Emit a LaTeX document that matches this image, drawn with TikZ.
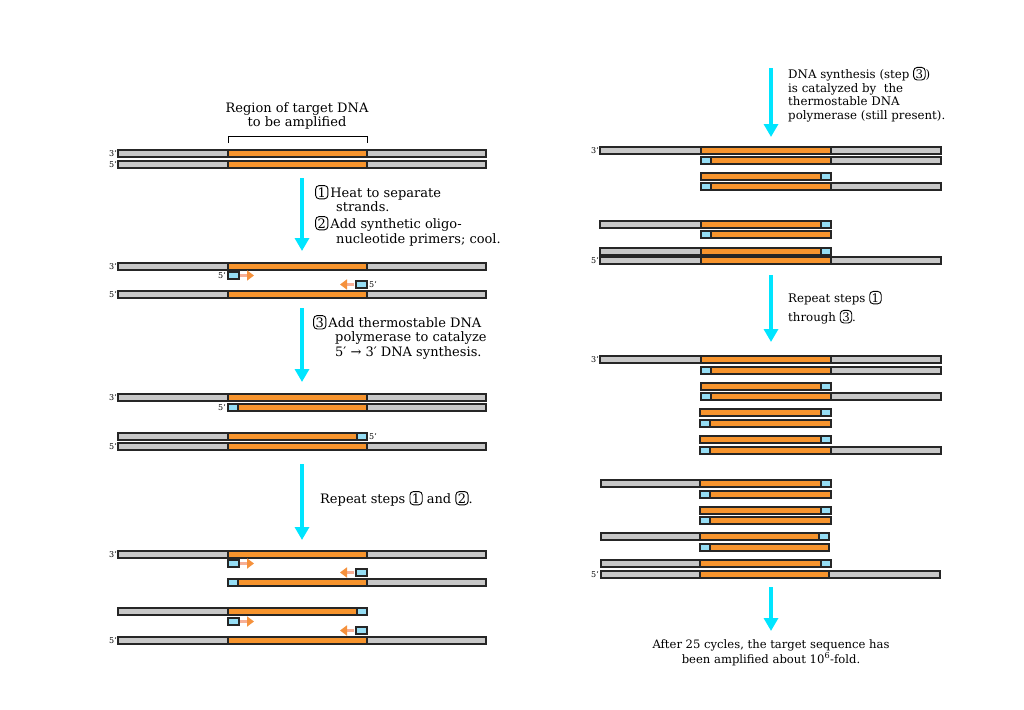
\documentclass[tikz,border=0pt]{standalone}
\usepackage{fontspec}
\setmainfont{DejaVu Serif}
\usetikzlibrary{arrows.meta}
\definecolor{dnaorange}{RGB}{247,148,45}
\definecolor{dnagray}{RGB}{200,200,200}
\definecolor{dnablue}{RGB}{150,222,245}
\definecolor{bigcyan}{RGB}{0,229,255}
\definecolor{primarrow}{RGB}{245,145,60}
\definecolor{primshaft}{RGB}{247,175,150}
\newcommand{\cnum}[1]{\tikz[baseline=(cn.base)]\node[draw,line width=0.9pt,rounded corners=3.5pt,inner xsep=2pt,inner ysep=1.8pt](cn){#1};}
\newcommand{\sg}[4]{\draw[seg,fill=#1] (#2,#4) rectangle (#3,{#4+7});}
% full strand: y L A B R
\newcommand{\fullst}[5]{\sg{dnagray}{#2}{#3}{#1}\sg{dnaorange}{#3}{#4}{#1}\sg{dnagray}{#4}{#5}{#1}}
% primer + orange + gray: y A B R
\newcommand{\pst}[4]{\sg{dnablue}{#2}{#2+10}{#1}\sg{dnaorange}{#2+10}{#3}{#1}\sg{dnagray}{#3}{#4}{#1}}
% orange + primer: y A B
\newcommand{\qst}[3]{\sg{dnaorange}{#2}{#3-10}{#1}\sg{dnablue}{#3-10}{#3}{#1}}
% primer + orange: y A B
\newcommand{\rst}[3]{\sg{dnablue}{#2}{#2+10}{#1}\sg{dnaorange}{#2+10}{#3}{#1}}
% gray + orange + primer: y L A B
\newcommand{\sst}[4]{\sg{dnagray}{#2}{#3}{#1}\sg{dnaorange}{#3}{#4-10}{#1}\sg{dnablue}{#4-10}{#4}{#1}}
\newcommand{\primer}[2]{\sg{dnablue}{#1}{#1+11}{#2}}
\begin{document}
\begin{tikzpicture}[x=1pt,y=-1pt,
  seg/.style={draw=black!85,line width=1.15pt},
  bigarrow/.style={bigcyan,line width=4pt,-{Triangle[width=14pt,length=13pt]}},
  parrow/.style={primshaft,line width=3.8pt,-{Triangle[width=10pt,length=7pt,color=primarrow]}},
  txt/.style={font=\fontsize{13}{15}\selectfont,inner sep=0pt,anchor=base west},
  ctxt/.style={font=\fontsize{13}{15}\selectfont,inner sep=0pt,anchor=base},
  rtxt/.style={font=\fontsize{11.8}{14}\selectfont,inner sep=0pt,anchor=base west},
  rctxt/.style={font=\fontsize{11.6}{14}\selectfont,inner sep=0pt,anchor=base},
  lab/.style={font=\fontsize{8}{9}\selectfont,inner sep=0pt}]
\useasboundingbox[fill=white] (0,0) rectangle (1024,709);

% ===== Left column =====
\node[ctxt] (reg1) at (297,112) {Region of target DNA};
\node[ctxt] (reg2) at (297,126.5) {to be amplified};
\draw[line width=1pt] (228,143) -- (228,136) -- (367,136) -- (367,143);
\fullst{150}{118}{228}{367}{486}
\fullst{161}{118}{228}{367}{486}
\node[lab,anchor=east] (l1a) at (117,153.5) {3'};
\node[lab,anchor=east] (l1b) at (117,164.5) {5'};

\coordinate (a1s) at (302,178); \coordinate (a1e) at (302,251);
\draw[bigarrow] (a1s) -- (a1e);
\node[txt] (t1a) at (315,197) {\cnum{1}\kern2pt Heat to separate};
\node[txt] (t1b) at (336,211) {strands.};
\node[txt] (t1c) at (315,228) {\cnum{2}\kern2pt Add synthetic oligo-};
\node[txt] (t1d) at (336,243) {nucleotide primers; cool.};

\fullst{263}{118}{228}{367}{486}
\primer{228}{272}
\primer{356}{281}
\fullst{291}{118}{228}{367}{486}
\draw[parrow] (240,275.5) -- (254,275.5);
\draw[parrow] (354,284.5) -- (340,284.5);
\node[lab,anchor=east] (l2a) at (117,266.5) {3'};
\node[lab,anchor=east] (l2b) at (117,294.5) {5'};
\node[lab,anchor=east] (l2c) at (226,275.5) {5'};
\node[lab,anchor=west] (l2d) at (369,284.5) {5'};

\coordinate (a2s) at (302,308); \coordinate (a2e) at (302,382);
\draw[bigarrow] (a2s) -- (a2e);
\node[txt] (t2a) at (313,327) {\cnum{3}\kern2pt Add thermostable DNA};
\node[txt] (t2b) at (335,341.5) {polymerase to catalyze};
\node[txt] (t2c) at (335,356) {5′ → 3′ DNA synthesis.};

\fullst{394}{118}{228}{367}{486}
\pst{404}{228}{367}{486}
\sst{433}{118}{228}{367}
\fullst{443}{118}{228}{367}{486}
\node[lab,anchor=east] (l3a) at (117,397.5) {3'};
\node[lab,anchor=east] (l3b) at (226,407.5) {5'};
\node[lab,anchor=west] (l3c) at (369,436.5) {5'};
\node[lab,anchor=east] (l3d) at (117,446.5) {5'};

\coordinate (a3s) at (302,464); \coordinate (a3e) at (302,540);
\draw[bigarrow] (a3s) -- (a3e);
\node[txt] (t3a) at (320,503) {Repeat steps \cnum{1} and \cnum{2}.};

\fullst{551}{118}{228}{367}{486}
\primer{228}{560}
\primer{356}{569}
\draw[parrow] (240,563.5) -- (254,563.5);
\draw[parrow] (354,572.5) -- (340,572.5);
\pst{579}{228}{367}{486}
\sst{608}{118}{228}{367}
\primer{228}{618}
\primer{356}{627}
\draw[parrow] (240,621.5) -- (254,621.5);
\draw[parrow] (354,630.5) -- (340,630.5);
\fullst{637}{118}{228}{367}{486}
\node[lab,anchor=east] (l4a) at (117,554.5) {3'};
\node[lab,anchor=east] (l4b) at (117,640.5) {5'};

% ===== Right column =====
\coordinate (b1s) at (771,68); \coordinate (b1e) at (771,137);
\draw[bigarrow] (b1s) -- (b1e);
\node[rtxt] (r1a) at (788,78) {DNA synthesis (step \cnum{3})};
\node[rtxt] (r1b) at (788,92) {is catalyzed by \ the};
\node[rtxt] (r1c) at (788,105.5) {thermostable DNA};
\node[rtxt] (r1d) at (788,119) {polymerase (still present).};

\fullst{147}{600}{701}{831}{941}
\pst{157}{701}{831}{941}
\qst{173}{701}{831}
\pst{183}{701}{831}{941}
\sst{221}{600}{701}{831}
\rst{231}{701}{831}
\sst{248}{600}{701}{831}
\fullst{257}{600}{701}{831}{941}
\node[lab,anchor=east] (m1a) at (599,150.5) {3'};
\node[lab,anchor=east] (m1b) at (599,260.5) {5'};

\coordinate (b2s) at (771,275); \coordinate (b2e) at (771,342);
\draw[bigarrow] (b2s) -- (b2e);
\node[rtxt] (r2a) at (788,302) {Repeat steps \cnum{1}};
\node[rtxt] (r2b) at (788,321) {through \cnum{3}.};

\fullst{356}{600}{701}{831}{941}
\pst{367}{701}{831}{941}
\qst{383}{701}{831}
\pst{393}{701}{831}{941}
\qst{409}{700}{831}
\rst{420}{700}{831}
\qst{436}{700}{831}
\pst{447}{700}{831}{941}
\sst{480}{601}{700}{831}
\rst{491}{700}{831}
\qst{507}{700}{831}
\rst{517}{700}{831}
\sst{533}{601}{700}{829}
\rst{544}{700}{829}
\sst{560}{601}{700}{831}
\fullst{571}{601}{700}{829}{940}
\node[lab,anchor=east] (m2a) at (599,359.5) {3'};
\node[lab,anchor=east] (m2b) at (599,574.5) {5'};

\coordinate (b3s) at (771,587); \coordinate (b3e) at (771,631);
\draw[bigarrow] (b3s) -- (b3e);
\node[rctxt] (f1) at (771,648) {After 25 cycles, the target sequence has};
\node[rctxt] (f2) at (771,663) {been amplified about 10\textsuperscript{6}-fold.};
\end{tikzpicture}
\end{document}
